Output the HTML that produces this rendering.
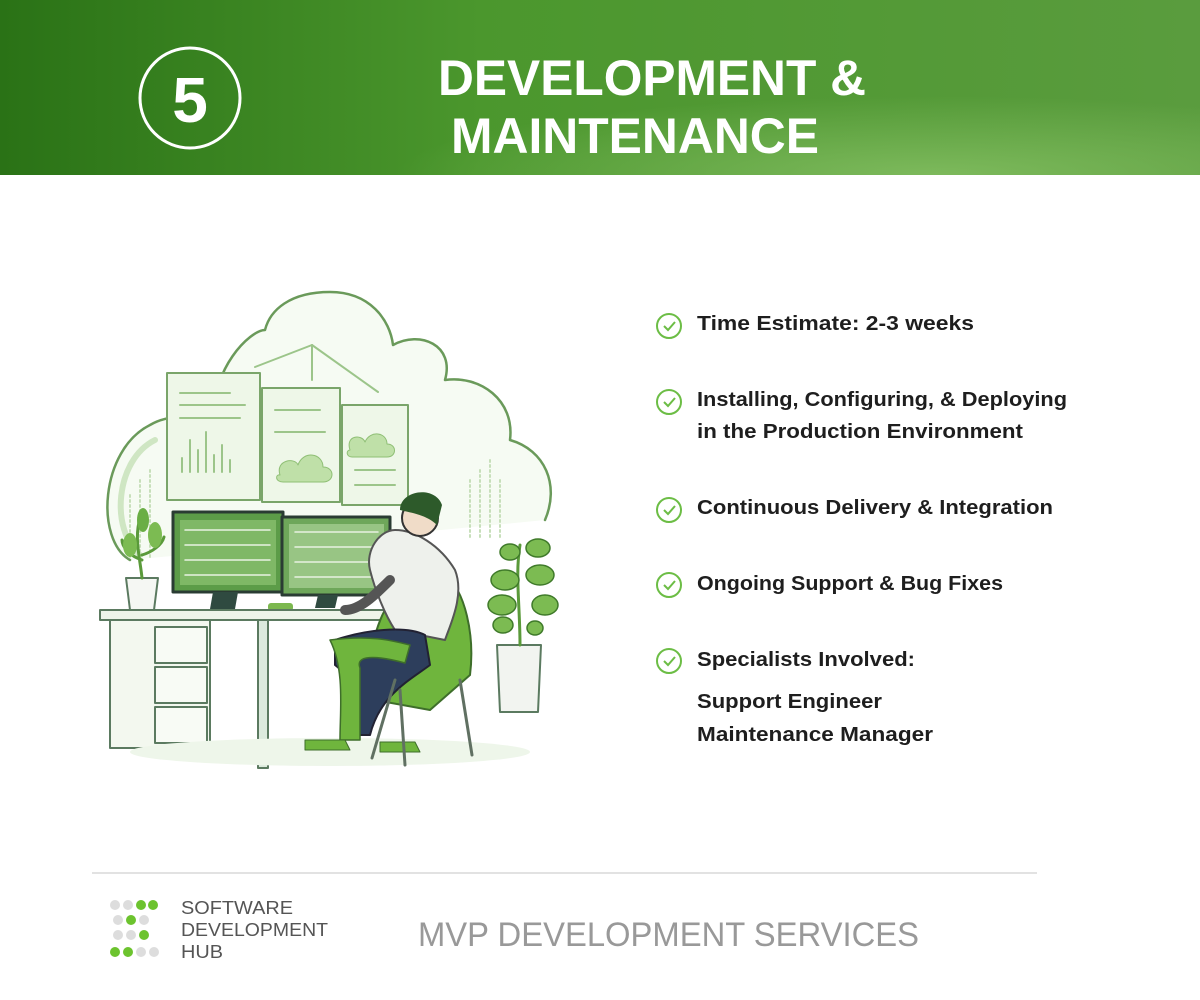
<!DOCTYPE html>
<html><head><meta charset="utf-8"><style>
html,body{margin:0;padding:0;background:#fff;}
svg{display:block}
</style></head><body>
<svg width="1200" height="1000" viewBox="0 0 1200 1000" xmlns="http://www.w3.org/2000/svg">
<defs>
<linearGradient id="hg" x1="0" y1="0" x2="1" y2="0">
<stop offset="0" stop-color="#2a7216"/>
<stop offset="0.4" stop-color="#4b972d"/>
<stop offset="1" stop-color="#5a9c3e"/>
</linearGradient>
<radialGradient id="hl" cx="0.78" cy="1" r="0.45">
<stop offset="0" stop-color="#84bf62" stop-opacity="0.85"/>
<stop offset="1" stop-color="#84bf62" stop-opacity="0"/>
</radialGradient>
</defs>
<rect x="0" y="0" width="1200" height="175" fill="url(#hg)"/>
<rect x="0" y="0" width="1200" height="175" fill="url(#hl)"/>
<circle cx="190" cy="98" r="50" fill="none" stroke="#fff" stroke-width="3"/>
<text x="190" y="122" text-anchor="middle" font-family="Liberation Sans, sans-serif" font-weight="bold" font-size="64" fill="#fff">5</text>
<g font-family="Liberation Sans, sans-serif" font-weight="bold" font-size="50" fill="#fff">
<text x="438" y="95" textLength="428" lengthAdjust="spacingAndGlyphs">DEVELOPMENT &amp;</text>
<text x="451" y="153" textLength="368" lengthAdjust="spacingAndGlyphs">MAINTENANCE</text>
</g>

<!-- illustration -->
<g fill="none" stroke-linecap="round" stroke-linejoin="round">
<path d="M130,560 C95,540 100,450 150,425 C175,410 210,420 215,420 C210,370 250,330 265,330 C270,310 290,292 330,292 C370,292 390,320 393,345 C420,330 455,345 445,380 C480,375 515,400 510,440 C545,450 560,485 545,520" stroke="#6a9a5a" stroke-width="2.5" fill="#f6fbf3"/>
<path d="M140,555 C110,530 115,460 155,440" stroke="#cfe6c3" stroke-width="6"/>
<rect x="167" y="373" width="93" height="127" fill="#eef7e8" stroke="#7aa56a" stroke-width="2"/>
<rect x="262" y="388" width="78" height="114" fill="#eef7e8" stroke="#7aa56a" stroke-width="2"/>
<rect x="342" y="405" width="66" height="100" fill="#eef7e8" stroke="#7aa56a" stroke-width="2"/>
<g stroke="#9cc58a" stroke-width="2">
<line x1="180" y1="393" x2="230" y2="393"/><line x1="180" y1="405" x2="245" y2="405"/><line x1="180" y1="418" x2="240" y2="418"/>
<line x1="182" y1="472" x2="182" y2="458"/><line x1="190" y1="472" x2="190" y2="440"/><line x1="198" y1="472" x2="198" y2="450"/><line x1="206" y1="472" x2="206" y2="432"/><line x1="214" y1="472" x2="214" y2="455"/><line x1="222" y1="472" x2="222" y2="445"/><line x1="230" y1="472" x2="230" y2="460"/>
<line x1="275" y1="410" x2="320" y2="410"/><line x1="275" y1="432" x2="325" y2="432"/>
<line x1="355" y1="470" x2="395" y2="470"/><line x1="355" y1="485" x2="395" y2="485"/>
<line x1="255" y1="367" x2="312" y2="345"/><line x1="312" y1="345" x2="378" y2="392"/><line x1="312" y1="345" x2="312" y2="380"/>
</g>
<path d="M280,475 c-5,-15 15,-18 18,-10 c5,-15 25,-12 25,2 c12,0 12,15 0,15 h-40 c-8,0 -8,-8 -3,-7z" fill="#bfe0a8" stroke="#8fbf75"/>
<path d="M350,450 c-5,-15 12,-16 15,-8 c5,-12 22,-10 22,2 c10,0 10,13 0,13 h-35 c-6,0 -6,-7 -2,-7z" fill="#bfe0a8" stroke="#8fbf75"/>
<g stroke="#c7dfba" stroke-width="2" stroke-dasharray="2 3">
<line x1="130" y1="495" x2="130" y2="560"/><line x1="140" y1="480" x2="140" y2="560"/><line x1="150" y1="470" x2="150" y2="560"/>
<line x1="470" y1="480" x2="470" y2="540"/><line x1="480" y1="470" x2="480" y2="540"/><line x1="490" y1="460" x2="490" y2="540"/><line x1="500" y1="480" x2="500" y2="540"/>
</g>
<rect x="173" y="512" width="110" height="80" fill="#5c9c48" stroke="#2a3c33" stroke-width="3"/>
<rect x="282" y="517" width="108" height="78" fill="#6ea75a" stroke="#2a3c33" stroke-width="3"/>
<rect x="180" y="520" width="96" height="65" fill="#7fb866" stroke="none"/>
<rect x="289" y="524" width="95" height="64" fill="#98c584" stroke="none"/>
<g stroke="#e8f2e2" stroke-width="1.5">
<line x1="185" y1="530" x2="270" y2="530"/><line x1="185" y1="545" x2="270" y2="545"/><line x1="185" y1="560" x2="270" y2="560"/><line x1="185" y1="575" x2="270" y2="575"/>
<line x1="295" y1="532" x2="378" y2="532"/><line x1="295" y1="547" x2="378" y2="547"/><line x1="295" y1="562" x2="378" y2="562"/><line x1="295" y1="577" x2="378" y2="577"/>
</g>
<path d="M213,592 l-3,17 h25 l3,-17z" fill="#2f4a40"/>
<path d="M318,595 l-3,13 h20 l3,-13z" fill="#2f4a40"/>
<rect x="268" y="603" width="25" height="8" rx="3" fill="#7cb84f"/>
<path d="M100,610 H405 V620 H100z" fill="#eef4ea" stroke="#5b7a60" stroke-width="2"/>
<rect x="110" y="620" width="100" height="128" fill="#f3f8ef" stroke="#5b7a60" stroke-width="2"/>
<rect x="155" y="627" width="52" height="36" fill="#f8fbf5" stroke="#5b7a60" stroke-width="2"/>
<rect x="155" y="667" width="52" height="36" fill="#f8fbf5" stroke="#5b7a60" stroke-width="2"/>
<rect x="155" y="707" width="52" height="36" fill="#f8fbf5" stroke="#5b7a60" stroke-width="2"/>
<rect x="258" y="620" width="10" height="148" fill="#dceadd" stroke="#5b7a60" stroke-width="2"/>
<ellipse cx="330" cy="752" rx="200" ry="14" fill="#eef6ea" stroke="none"/>
<path d="M126,578 h32 l-4,32 h-24z" fill="#f5f7f3" stroke="#5b7a60" stroke-width="2"/>
<path d="M142,578 c-2,-20 -8,-40 -2,-60 M142,560 c-15,-5 -20,-15 -20,-20 M142,555 c10,-3 20,-10 22,-18" stroke="#5a9a3a" stroke-width="3"/>
<ellipse cx="130" cy="545" rx="7" ry="12" fill="#7cbb52" stroke="none"/>
<ellipse cx="155" cy="535" rx="7" ry="13" fill="#7cbb52" stroke="none"/>
<ellipse cx="143" cy="520" rx="6" ry="12" fill="#6aae45" stroke="none"/>
<path d="M375,700 c-10,-30 -5,-80 30,-120 c10,-10 30,-15 40,-5 c20,15 30,60 25,100 l-40,35z" fill="#6fb53d" stroke="#3e6e2a" stroke-width="2"/>
<path d="M395,530 c20,0 45,15 60,40 c10,25 -5,55 -10,70 l-50,-10 c-10,-15 -20,-40 -25,-60 c-5,-20 10,-40 25,-40z" fill="#eef1ec" stroke="#555" stroke-width="2"/>
<path d="M345,610 c15,0 30,-15 45,-30" stroke="#555" stroke-width="10"/>
<path d="M335,640 c30,-10 70,-15 90,-5 l5,30 c-20,15 -50,30 -60,70 h-20 c0,-35 5,-55 -15,-70z" fill="#2d3e5c" stroke="#223" stroke-width="2"/>
<path d="M330,640 c40,-5 60,0 80,5 l-5,18 c-30,-8 -50,-8 -45,5 l0,72 h-20 c0,-30 5,-70 -10,-100z" fill="#6fb53d" stroke="#3e6e2a" stroke-width="1.5"/>
<circle cx="420" cy="518" r="18" fill="#f0dcc8" stroke="#333" stroke-width="2"/>
<path d="M400,510 c0,-20 35,-25 42,-5 l-5,20 c-10,-10 -25,-12 -37,-15z" fill="#2d5a2a" stroke="none"/>
<path d="M305,740 h40 l5,10 h-45z" fill="#6fb53d" stroke="#3e6e2a"/>
<path d="M380,742 h35 l5,10 h-40z" fill="#6fb53d" stroke="#3e6e2a"/>
<g stroke="#607062" stroke-width="3">
<line x1="395" y1="680" x2="372" y2="758"/><line x1="460" y1="680" x2="472" y2="755"/><line x1="400" y1="690" x2="405" y2="765"/>
</g>
<path d="M497,645 h44 l-3,67 h-38z" fill="#f2f4f0" stroke="#5b7a60" stroke-width="2"/>
<path d="M520,645 c0,-40 -5,-70 0,-100" stroke="#5a9a3a" stroke-width="3"/>
<g fill="#7cbb52" stroke="#3f7a2a" stroke-width="1.5">
<ellipse cx="505" cy="580" rx="14" ry="10"/><ellipse cx="540" cy="575" rx="14" ry="10"/>
<ellipse cx="502" cy="605" rx="14" ry="10"/><ellipse cx="545" cy="605" rx="13" ry="10"/>
<ellipse cx="510" cy="552" rx="10" ry="8"/><ellipse cx="538" cy="548" rx="12" ry="9"/>
<ellipse cx="503" cy="625" rx="10" ry="8"/><ellipse cx="535" cy="628" rx="8" ry="7"/>
</g>
</g>

<g fill="none" stroke="#6cbd45" stroke-width="2">
<circle cx="669" cy="326" r="12"/><path d="M664,326 l4,4 l7,-8"/>
<circle cx="669" cy="402" r="12"/><path d="M664,402 l4,4 l7,-8"/>
<circle cx="669" cy="510" r="12"/><path d="M664,510 l4,4 l7,-8"/>
<circle cx="669" cy="585" r="12"/><path d="M664,585 l4,4 l7,-8"/>
<circle cx="669" cy="661" r="12"/><path d="M664,661 l4,4 l7,-8"/>
</g>
<g font-family="Liberation Sans, sans-serif" font-weight="bold" font-size="20" fill="#1e1e1e">
<text x="697" y="330" textLength="277" lengthAdjust="spacingAndGlyphs">Time Estimate: 2-3 weeks</text>
<text x="697" y="406" textLength="370" lengthAdjust="spacingAndGlyphs">Installing, Configuring, &amp; Deploying</text>
<text x="697" y="438" textLength="326" lengthAdjust="spacingAndGlyphs">in the Production Environment</text>
<text x="697" y="514" textLength="356" lengthAdjust="spacingAndGlyphs">Continuous Delivery &amp; Integration</text>
<text x="697" y="590" textLength="306" lengthAdjust="spacingAndGlyphs">Ongoing Support &amp; Bug Fixes</text>
<text x="697" y="666" textLength="218" lengthAdjust="spacingAndGlyphs">Specialists Involved:</text>
<text x="697" y="708" textLength="185" lengthAdjust="spacingAndGlyphs">Support Engineer</text>
<text x="697" y="741" textLength="236" lengthAdjust="spacingAndGlyphs">Maintenance Manager</text>
</g>

<line x1="92" y1="873" x2="1037" y2="873" stroke="#e2e2e2" stroke-width="2"/>
<g>
<circle cx="115" cy="905" r="5" fill="#ddd"/><circle cx="128" cy="905" r="5" fill="#ddd"/><circle cx="141" cy="905" r="5" fill="#6cc32e"/><circle cx="153" cy="905" r="5" fill="#6cc32e"/>
<circle cx="118" cy="920" r="5" fill="#ddd"/><circle cx="131" cy="920" r="5" fill="#6cc32e"/><circle cx="144" cy="920" r="5" fill="#ddd"/>
<circle cx="118" cy="935" r="5" fill="#ddd"/><circle cx="131" cy="935" r="5" fill="#ddd"/><circle cx="144" cy="935" r="5" fill="#6cc32e"/>
<circle cx="115" cy="952" r="5" fill="#6cc32e"/><circle cx="128" cy="952" r="5" fill="#6cc32e"/><circle cx="141" cy="952" r="5" fill="#ddd"/><circle cx="154" cy="952" r="5" fill="#ddd"/>
</g>
<g font-family="Liberation Sans, sans-serif" font-size="18" fill="#555">
<text x="181" y="914" textLength="112" lengthAdjust="spacingAndGlyphs">SOFTWARE</text>
<text x="181" y="936" textLength="147" lengthAdjust="spacingAndGlyphs">DEVELOPMENT</text>
<text x="181" y="958" textLength="42" lengthAdjust="spacingAndGlyphs">HUB</text>
</g>
<text x="418" y="946" font-family="Liberation Sans, sans-serif" font-size="34" fill="#999" textLength="501" lengthAdjust="spacingAndGlyphs">MVP DEVELOPMENT SERVICES</text>
</svg>
</body></html>
